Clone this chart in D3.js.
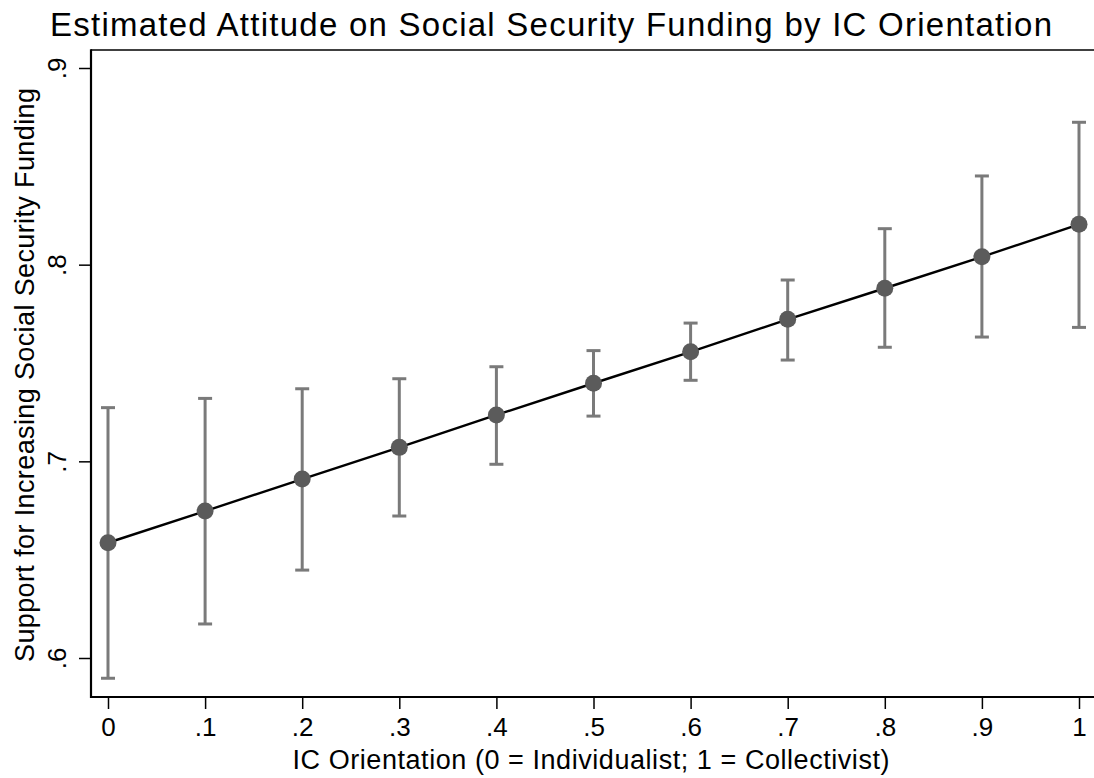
<!DOCTYPE html>
<html>
<head>
<meta charset="utf-8">
<script src="https://cdn.jsdelivr.net/npm/d3@7"></script>
<style>
  html, body { margin: 0; padding: 0; background: #fff; }
  svg { display: block; font-family: "Liberation Sans", Arial, Helvetica, sans-serif; }
</style>
</head>
<body>
<svg id="chart" width="1094" height="778"></svg>
<script>
// ---- data ----
const icOrientation = [0, 0.1, 0.2, 0.3, 0.4, 0.5, 0.6, 0.7, 0.8, 0.9, 1.0];
const estimate = [0.6586, 0.6747, 0.6910, 0.7071, 0.7236, 0.7397, 0.7557, 0.7722, 0.7880, 0.8040, 0.8205];
const ciLower  = [0.5897, 0.6173, 0.6447, 0.6722, 0.6985, 0.7230, 0.7412, 0.7515, 0.7580, 0.7632, 0.7681];
const ciUpper  = [0.7273, 0.7320, 0.7369, 0.7420, 0.7481, 0.7563, 0.7703, 0.7922, 0.8183, 0.8451, 0.8724];
const xTickValues = [0, 0.1, 0.2, 0.3, 0.4, 0.5, 0.6, 0.7, 0.8, 0.9, 1];
const xTickLabels = ["0", ".1", ".2", ".3", ".4", ".5", ".6", ".7", ".8", ".9", "1"];
const yTickValues = [0.6, 0.7, 0.8, 0.9];
const yTickLabels = [".6", ".7", ".8", ".9"];
const titleText = "Estimated Attitude on Social Security Funding by IC Orientation";
const xTitle = "IC Orientation (0 = Individualist; 1 = Collectivist)";
const yTitle = "Support for Increasing Social Security Funding";

const svg = d3.select("#chart");
const plotLeft = 91, plotRight = 1094, plotTop = 50, plotBottom = 697;

const x = d3.scaleLinear().domain([0, 1]).range([108, 1079]);
const y = d3.scaleLinear().domain([0.6, 0.9]).range([658, 68]);

const rows = icOrientation.map((v, i) => ({x: v, est: estimate[i], lo: ciLower[i], hi: ciUpper[i]}));

// title
svg.append("text")
  .attr("x", 551).attr("y", 36)
  .attr("text-anchor", "middle")
  .attr("font-size", 33)
  .attr("textLength", 1002)
  .attr("lengthAdjust", "spacing")
  .attr("fill", "#000")
  .text(titleText);

// top frame line
svg.append("line")
  .attr("x1", plotLeft).attr("x2", plotRight)
  .attr("y1", plotTop).attr("y2", plotTop)
  .attr("stroke", "#000").attr("stroke-width", 1.6);

// x axis
const xAxis = d3.axisBottom(x)
  .tickValues(xTickValues)
  .tickSize(12)
  .tickSizeOuter(0)
  .tickFormat((d, i) => xTickLabels[i]);
const gx = svg.append("g").attr("transform", `translate(0,${plotBottom})`).call(xAxis);
gx.select(".domain").remove();
gx.selectAll(".tick line").attr("stroke", "#000").attr("stroke-width", 1.5);
gx.selectAll(".tick text")
  .attr("font-size", 26).attr("fill", "#000")
  .attr("font-family", "'Liberation Sans', Arial, sans-serif")
  .attr("dy", null).attr("y", 39);

// y axis
const yAxis = d3.axisLeft(y)
  .tickValues(yTickValues)
  .tickSize(12)
  .tickSizeOuter(0)
  .tickFormat((d, i) => yTickLabels[i]);
const gy = svg.append("g").attr("transform", `translate(${plotLeft},0)`).call(yAxis);
gy.select(".domain").remove();
gy.selectAll(".tick line").attr("stroke", "#000").attr("stroke-width", 1.5);
gy.selectAll(".tick text")
  .attr("font-size", 26).attr("fill", "#000")
  .attr("font-family", "'Liberation Sans', Arial, sans-serif")
  .attr("x", null).attr("dy", null)
  .attr("text-anchor", "middle")
  .attr("transform", "translate(-25,0) rotate(-90)");

// axis lines
svg.append("line")
  .attr("x1", plotLeft).attr("x2", plotLeft)
  .attr("y1", plotTop - 0.8).attr("y2", plotBottom + 1)
  .attr("stroke", "#000").attr("stroke-width", 2.2);
svg.append("line")
  .attr("x1", plotLeft - 1).attr("x2", plotRight)
  .attr("y1", plotBottom).attr("y2", plotBottom)
  .attr("stroke", "#000").attr("stroke-width", 2.2);

// error bars
const eb = svg.append("g").attr("stroke", "#7a7a7a").attr("stroke-width", 3).attr("fill", "none");
eb.selectAll("line.v").data(rows).join("line").attr("class", "v")
  .attr("x1", d => x(d.x)).attr("x2", d => x(d.x))
  .attr("y1", d => y(d.lo)).attr("y2", d => y(d.hi));
eb.selectAll("line.capHi").data(rows).join("line").attr("class", "capHi")
  .attr("x1", d => x(d.x) - 7).attr("x2", d => x(d.x) + 7)
  .attr("y1", d => y(d.hi)).attr("y2", d => y(d.hi));
eb.selectAll("line.capLo").data(rows).join("line").attr("class", "capLo")
  .attr("x1", d => x(d.x) - 7).attr("x2", d => x(d.x) + 7)
  .attr("y1", d => y(d.lo)).attr("y2", d => y(d.lo));

// line
svg.append("path")
  .datum(rows)
  .attr("fill", "none")
  .attr("stroke", "#000")
  .attr("stroke-width", 2.4)
  .attr("d", d3.line().x(d => x(d.x)).y(d => y(d.est)));

// markers
svg.append("g").selectAll("circle").data(rows).join("circle")
  .attr("cx", d => x(d.x)).attr("cy", d => y(d.est))
  .attr("r", 8.5)
  .attr("fill", "#5b5b5b");

// axis titles
svg.append("text")
  .attr("x", 591).attr("y", 769)
  .attr("text-anchor", "middle")
  .attr("font-size", 27)
  .attr("textLength", 597)
  .attr("lengthAdjust", "spacing")
  .attr("fill", "#000")
  .text(xTitle);

svg.append("text")
  .attr("transform", "translate(34,375) rotate(-90)")
  .attr("text-anchor", "middle")
  .attr("font-size", 27)
  .attr("textLength", 574)
  .attr("lengthAdjust", "spacing")
  .attr("fill", "#000")
  .text(yTitle);
</script>
</body>
</html>
